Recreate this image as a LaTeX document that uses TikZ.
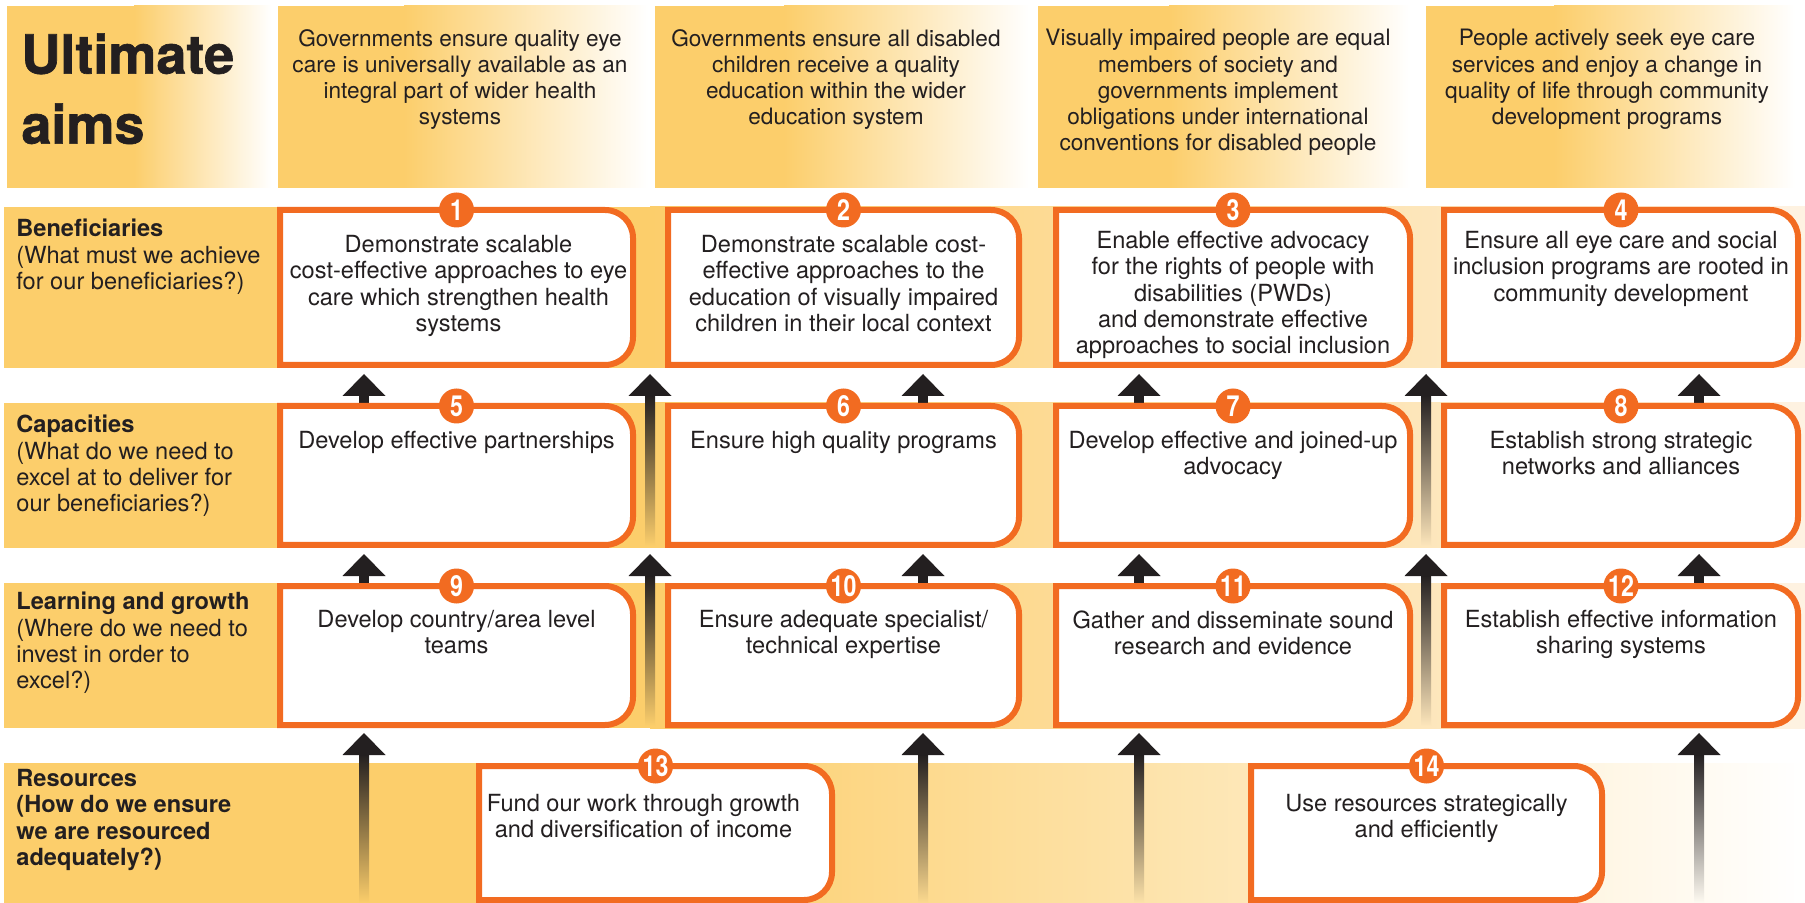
\documentclass[tikz,border=0pt]{standalone}
\usepackage{fontspec}
\setmainfont{TeX Gyre Heros}
\usetikzlibrary{calc,fit}
\definecolor{bandor}{HTML}{FCCE6B}
\definecolor{bandend}{HTML}{FEF2E2}
\definecolor{bord}{HTML}{F26B21}
\definecolor{arrc}{HTML}{231F20}
\definecolor{txt}{HTML}{231F20}
\tikzset{
  boxn/.style={inner sep=0pt, outer sep=0pt},
  bline/.style={draw=bord, fill=white, line width=3pt},
  btext/.style={anchor=north, inner sep=0pt, align=center, text=txt, font=\fontsize{11.8}{13.1}\selectfont},
  aimtext/.style={anchor=north, inner sep=0pt, align=center, text=txt, font=\fontsize{11.3}{13.1}\selectfont},
  labtext/.style={anchor=north west, inner sep=0pt, align=left, text=txt, font=\fontsize{11.8}{13.1}\selectfont},
  numc/.style={circle, fill=bord, minimum size=17.5pt, inner sep=0pt, text=white, font=\bfseries\fontsize{14.5}{14.5}\selectfont}
}
\newcommand\myBorder[1]{\filldraw[bline] (#1.south west) -- (#1.north west) -- ([xshift=-14pt]#1.north east) arc[start angle=90,end angle=0,radius=14pt] -- ([yshift=14pt]#1.south east) arc[start angle=0,end angle=-90,radius=14pt] -- cycle;}
\newcommand\myShortArrow[4]{%
  \coordinate (#1-tip) at (#2,#3);
  \coordinate (#1-foot) at (#2,#4);
  \fill[arrc] ($(#1-foot)+(-5,0)$) rectangle ($(#1-tip)+(5,21)$);
  \fill[arrc] ($(#1-tip)+(-21.5,22)$) -- (#1-tip) -- ($(#1-tip)+(21.5,22)$) -- cycle;}
\newcommand\myLongArrow[5]{%
  \coordinate (#1-tip) at (#2,#3);
  \coordinate (#1-foot) at (#2,#4);
  \shade[top color=arrc, bottom color=#5] ($(#1-foot)+(-5,0)$) rectangle ($(#1-tip)+(5,21)$);
  \fill[arrc] ($(#1-tip)+(-21.5,22)$) -- (#1-tip) -- ($(#1-tip)+(21.5,22)$) -- cycle;}
\begin{document}
\begin{tikzpicture}[x=0.5pt,y=-0.5pt]
\useasboundingbox (0,0) rectangle (1805,903);
\fill[white] (0,0) rectangle (1805,903);
% ---------- ultimate aims row
\fill[bandor] (7,6) rectangle (135,188);
\shade[left color=bandor,right color=white] (134,6) rectangle (272,188);
\fill[bandor] (278,6) rectangle (405,188);
\shade[left color=bandor,right color=white] (404,6) rectangle (648,188);
\fill[bandor] (655,6) rectangle (785,188);
\shade[left color=bandor,right color=white] (784,6) rectangle (1030,188);
\fill[bandor] (1038,6) rectangle (1170,188);
\shade[left color=bandor,right color=white] (1169,6) rectangle (1410,188);
\fill[bandor] (1426,6) rectangle (1555,188);
\shade[left color=bandor,right color=white] (1554,6) rectangle (1795,188);
% ---------- bands
\foreach \ya/\yb in {207/368, 403/548, 583/728}{
  \fill[bandor] (4,\ya) rectangle (651,\yb);
  \shade[left color=bandor,right color=bandend] (650,\ya) rectangle (1805,\yb);
}
\fill[bandor] (4,763) rectangle (651,903);
\shade[left color=bandor,right color=white] (650,763) rectangle (1805,903);
% ---------- labels
\node[anchor=north west, inner sep=0pt, align=left, text=txt, font=\bfseries\fontsize{27}{35}\selectfont] (lu) at (21,33) {\addfontfeature{FakeBold=1.2}Ultimate\\\addfontfeature{FakeBold=1.2}aims};
\node[labtext] (lb) at (16,219) {\textbf{Beneficiaries}\\(What must we achieve\\for our beneficiaries?)};
\node[labtext] (lc) at (16,415) {\textbf{Capacities}\\(What do we need to\\excel at to deliver for\\our beneficiaries?)};
\node[labtext] (ll) at (16,592) {\textbf{Learning and growth}\\(Where do we need to\\invest in order to\\excel?)};
\node[labtext, font=\bfseries\fontsize{11.8}{13.1}\selectfont] (lr) at (16,769) {Resources\\(How do we ensure\\we are resourced\\adequately?)};
% ---------- aim texts
\node[aimtext] (u1) at (460,29) {Governments ensure quality eye\\care is universally available as an\\integral part of wider health\\systems};
\node[aimtext] (u2) at (836,29) {Governments ensure all disabled\\children receive a quality\\education within the wider\\education system};
\node[aimtext] (u3) at (1218,29) {Visually impaired people are equal\\members of society and\\governments implement\\obligations under international\\conventions for disabled people};
\node[aimtext] (u4) at (1607,29) {People actively seek eye care\\services and enjoy a change in\\quality of life through community\\development programs};
% ---------- arrows
\foreach \xx [count=\i] in {364,923,1139,1699}{
  \myShortArrow{sa\i}{\xx}{374}{404}
  \myShortArrow{sb\i}{\xx}{554}{584}
}
\myLongArrow{la1}{650}{374}{546}{bandor}
\myLongArrow{la2}{1426}{374}{546}{bandend!67!bandor}
\myLongArrow{lb1}{650}{554}{726}{bandor}
\myLongArrow{lb2}{1426}{554}{726}{bandend!67!bandor}
\myLongArrow{lc1}{364}{733}{903}{bandor}
\myLongArrow{lc2}{923}{733}{903}{white!24!bandor}
\myLongArrow{lc3}{1139}{733}{903}{white!42!bandor}
\myLongArrow{lc4}{1699}{733}{903}{white!91!bandor}
% ---------- boxes
\node[boxn, fit={(280,210) (633,365)}] (b1) {};
\node[boxn, fit={(668,210) (1019,365)}] (b2) {};
\node[boxn, fit={(1056,210) (1410,365)}] (b3) {};
\node[boxn, fit={(1444,210) (1798,365)}] (b4) {};
\node[boxn, fit={(280,406) (633,545)}] (b5) {};
\node[boxn, fit={(668,406) (1019,545)}] (b6) {};
\node[boxn, fit={(1056,406) (1410,545)}] (b7) {};
\node[boxn, fit={(1444,406) (1798,545)}] (b8) {};
\node[boxn, fit={(280,586) (633,725)}] (b9) {};
\node[boxn, fit={(668,586) (1019,725)}] (b10) {};
\node[boxn, fit={(1056,586) (1410,725)}] (b11) {};
\node[boxn, fit={(1444,586) (1798,725)}] (b12) {};
\node[boxn, fit={(479,766) (832,900)}] (b13) {};
\node[boxn, fit={(1251,766) (1602,900)}] (b14) {};
\foreach \b in {b1,b2,b3,b4,b5,b6,b7,b8,b9,b10,b11,b12,b13,b14}{\myBorder{\b}}
% ---------- box texts
\node[btext] (t1) at ($(b1.north)+(2,25)$) {Demonstrate scalable\\cost-effective approaches to eye\\care which strengthen health\\systems};
\node[btext] (t2) at ($(b2.north)+(0,25)$) {Demonstrate scalable cost-\\effective approaches to the\\education of visually impaired\\children in their local context};
\node[btext] (t3) at ($(b3.north)+(0,21)$) {Enable effective advocacy\\for the rights of people with\\disabilities (PWDs)\\and demonstrate effective\\approaches to social inclusion};
\node[btext] (t4) at ($(b4.north)+(0,21)$) {Ensure all eye care and social\\inclusion programs are rooted in\\community development};
\node[btext] (t5) at ($(b5.north)+(0,25)$) {Develop effective partnerships};
\node[btext] (t6) at ($(b6.north)+(0,25)$) {Ensure high quality programs};
\node[btext] (t7) at ($(b7.north)+(0,25)$) {Develop effective and joined-up\\advocacy};
\node[btext] (t8) at ($(b8.north)+(0,25)$) {Establish strong strategic\\networks and alliances};
\node[btext] (t9) at ($(b9.north)+(0,24)$) {Develop country/area level\\teams};
\node[btext] (t10) at ($(b10.north)+(0,24)$) {Ensure adequate specialist/\\technical expertise};
\node[btext] (t11) at ($(b11.north)+(0,24)$) {Gather and disseminate sound\\research and evidence};
\node[btext] (t12) at ($(b12.north)+(0,24)$) {Establish effective information\\sharing systems};
\node[btext] (t13) at ($(b13.north)+(-12,28)$) {Fund our work through growth\\and diversification of income};
\node[btext] (t14) at ($(b14.north)+(0,28)$) {Use resources strategically\\and efficiently};
% ---------- number circles
\foreach \n in {1,...,14}{
  \node[numc] (n\n) at (b\n.north) {\scalebox{0.8}[1]{\n}};
}
\end{tikzpicture}
\end{document}
